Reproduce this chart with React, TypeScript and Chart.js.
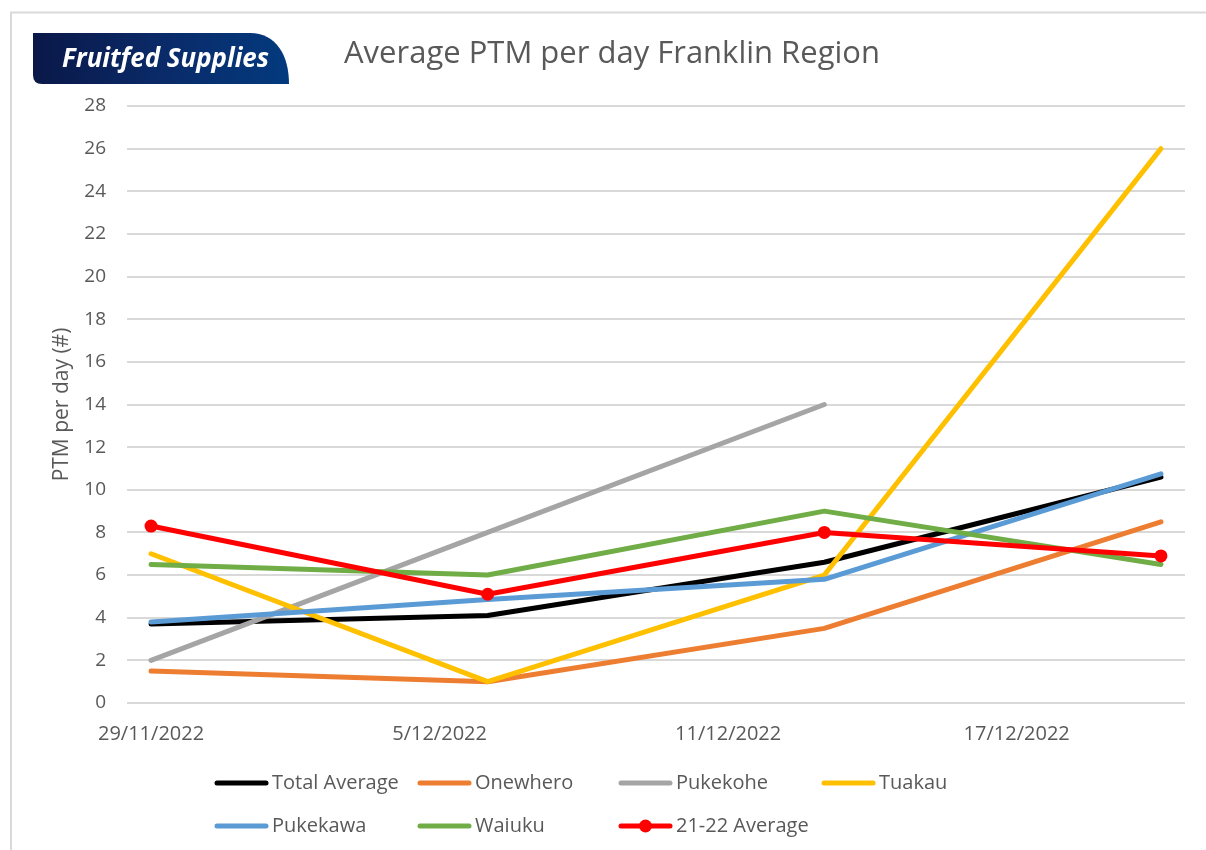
import React, { useEffect, useRef } from 'react';
import { Chart, registerables } from 'chart.js';

Chart.register(...registerables);

// ---- Data ----
const startDate = '2022-11-29';
const pointDates = ['2022-11-29', '2022-12-06', '2022-12-13', '2022-12-20'];
const tickDates = ['2022-11-29', '2022-12-05', '2022-12-11', '2022-12-17'];
const tickLabels = ['29/11/2022', '5/12/2022', '11/12/2022', '17/12/2022'];

const seriesNames = ['Total Average', 'Onewhero', 'Pukekohe', 'Tuakau', 'Pukekawa', 'Waiuku', '21-22 Average'];
const totalAverage = [3.7, 4.1, 6.6, 10.6];
const onewhero = [1.5, 1.0, 3.5, 8.5];
const pukekohe = [2.0, 8.0, 14.0, null];
const tuakau = [7.0, 1.0, 6.0, 26.0];
const pukekawa = [3.8, 4.85, 5.8, 10.75];
const waiuku = [6.5, 6.0, 9.0, 6.5];
const average2122 = [8.3, 5.1, 8.0, 6.9];
const seriesColors = ['#000000', '#ED7D31', '#A5A5A5', '#FFC000', '#5B9BD5', '#70AD47', '#FF0000'];

const yMin = 0;
const yMax = 28;
const yStep = 2;

const chartTitle = 'Average PTM per day Franklin Region';
const yTitle = 'PTM per day (#)';
const logoText = 'Fruitfed Supplies';

// ---- helpers ----
const DAY = 86400000;
const toDay = (s: string) => {
  const [y, m, d] = s.split('-').map(Number);
  const [y0, m0, d0] = startDate.split('-').map(Number);
  return (Date.UTC(y, m - 1, d) - Date.UTC(y0, m0 - 1, d0)) / DAY;
};
const pointDays = pointDates.map(toDay);
const tickDays = tickDates.map(toDay);

const FONT = '"Open Sans", "Noto Sans", sans-serif';
const TEXT = '#595959';

const decorPlugin = {
  id: 'decor',
  beforeDraw(chart: any) {
    const ctx = chart.ctx as CanvasRenderingContext2D;
    ctx.save();
    ctx.fillStyle = '#ffffff';
    ctx.fillRect(0, 0, chart.width, chart.height);
    // frame
    ctx.strokeStyle = '#d9d9d9';
    ctx.lineWidth = 2;
    ctx.beginPath();
    ctx.moveTo(11, chart.height + 5);
    ctx.lineTo(11, 12.5);
    ctx.lineTo(chart.width + 5, 12.5);
    ctx.stroke();
    // logo
    const g = ctx.createLinearGradient(33, 0, 289, 0);
    g.addColorStop(0, '#0a1848');
    g.addColorStop(0.5, '#0a2a68');
    g.addColorStop(1, '#033a7e');
    ctx.fillStyle = g;
    ctx.beginPath();
    ctx.moveTo(33, 33);
    ctx.lineTo(250, 33);
    ctx.bezierCurveTo(276, 33, 289, 55, 289, 84);
    ctx.lineTo(42, 84);
    ctx.quadraticCurveTo(33, 84, 33, 75);
    ctx.closePath();
    ctx.fill();
    ctx.fillStyle = '#ffffff';
    ctx.font = `italic bold 26px ${FONT}`;
    ctx.textBaseline = 'alphabetic';
    ctx.textAlign = 'left';
    ctx.fillText(logoText, 62, 67, 207);
    // title
    ctx.fillStyle = TEXT;
    ctx.font = `31px ${FONT}`;
    ctx.textBaseline = 'middle';
    ctx.fillText(chartTitle, 344, 54);
    ctx.restore();
  },
  afterDraw(chart: any) {
    const ctx = chart.ctx as CanvasRenderingContext2D;
    const cols = [215, 418, 619, 822];
    const rows = [783, 826];
    chart.data.datasets.forEach((ds: any, i: number) => {
      const x = cols[i % 4];
      const y = rows[Math.floor(i / 4)];
      ctx.save();
      ctx.strokeStyle = ds.borderColor;
      ctx.lineWidth = 5;
      ctx.lineCap = 'round';
      ctx.beginPath();
      ctx.moveTo(x + 2, y);
      ctx.lineTo(x + 51, y);
      ctx.stroke();
      if (ds.pointRadius > 0) {
        ctx.fillStyle = ds.borderColor;
        ctx.beginPath();
        ctx.arc(x + 26.5, y, 6.5, 0, Math.PI * 2);
        ctx.fill();
      }
      ctx.fillStyle = TEXT;
      ctx.font = `20px ${FONT}`;
      ctx.textBaseline = 'middle';
      ctx.textAlign = 'left';
      ctx.fillText(ds.label, x + 57, y);
      ctx.restore();
    });
  },
};

export default function App() {
  const ref = useRef<HTMLCanvasElement>(null);

  useEffect(() => {
    if (!ref.current) return;
    const series = [totalAverage, onewhero, pukekohe, tuakau, pukekawa, waiuku, average2122];
    const datasets = series.map((vals, i) => {
      const isAvg = i === series.length - 1;
      return {
        label: seriesNames[i],
        data: pointDays.map((d, k) => ({ x: d, y: vals[k] })),
        borderColor: seriesColors[i],
        backgroundColor: seriesColors[i],
        borderWidth: 5,
        borderJoinStyle: 'round' as const,
        borderCapStyle: 'round' as const,
        pointRadius: isAvg ? 6.5 : 0,
        pointHoverRadius: isAvg ? 6.5 : 0,
        pointBorderWidth: 0,
        pointBackgroundColor: seriesColors[i],
        order: series.length - i,
        tension: 0,
        fill: false,
        spanGaps: false,
      };
    });

    const chart = new Chart(ref.current, {
      type: 'line',
      data: { datasets },
      plugins: [decorPlugin],
      options: {
        animation: false,
        responsive: false,
        maintainAspectRatio: false,
        layout: { padding: { top: 106, right: 21, bottom: 104, left: 0 } },
        plugins: {
          legend: { display: false },
          tooltip: { enabled: false },
          title: { display: false },
        },
        scales: {
          x: {
            type: 'linear',
            min: -0.5,
            max: 21.5,
            afterBuildTicks: (scale: any) => {
              scale.ticks = tickDays.map((v) => ({ value: v }));
            },
            afterFit: (scale: any) => {
              scale.height = 43;
            },
            ticks: {
              autoSkip: false,
              maxRotation: 0,
              padding: 19,
              color: TEXT,
              font: { family: FONT, size: 20 },
              callback: (_v: any, idx: number) => tickLabels[idx],
            },
            grid: { display: false, drawTicks: false },
            border: { display: false },
          },
          y: {
            min: yMin,
            max: yMax,
            afterFit: (scale: any) => {
              scale.width = 127;
            },
            ticks: {
              stepSize: yStep,
              padding: 21,
              color: TEXT,
              font: { family: FONT, size: 19 },
            },
            grid: { color: '#d9d9d9', lineWidth: 2, drawTicks: false },
            border: { display: false },
            title: {
              display: true,
              text: yTitle,
              color: TEXT,
              font: { family: FONT, size: 21 },
              padding: { top: 49, bottom: 0 },
            },
          },
        },
      },
    });
    return () => chart.destroy();
  }, []);

  return (
    <div style={{ position: 'absolute', left: 0, top: 0, width: 1206, height: 850, background: '#fff' }}>
      <canvas ref={ref} width={1206} height={850} style={{ width: 1206, height: 850, display: 'block' }} />
    </div>
  );
}
